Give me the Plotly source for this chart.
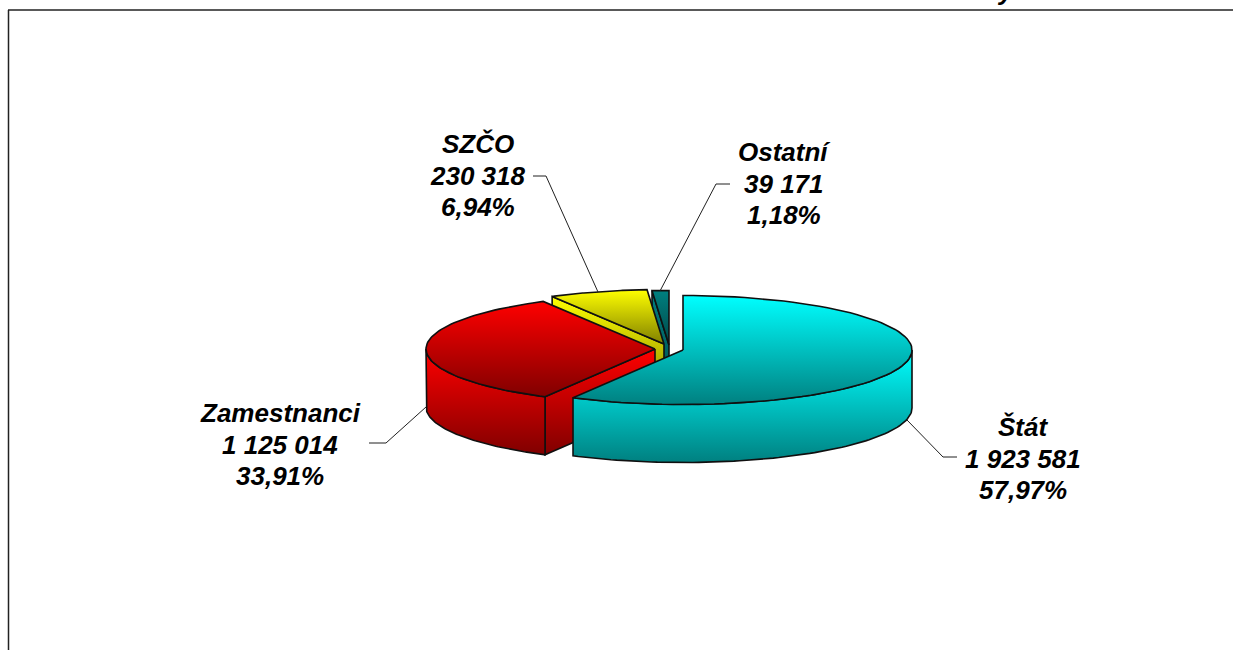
import math
import plotly.graph_objects as go

categories = ["Štát", "Zamestnanci", "SZČO", "Ostatní"]
values = [1923581, 1125014, 230318, 39171]
value_labels = ["1 923 581", "1 125 014", "230 318", "39 171"]
percent_labels = ["57,97%", "33,91%", "6,94%", "1,18%"]
cropped_title_glyph = "y"

W, H = 1233, 650
RX, RY, DEPTH = 229, 54.5, 58
# exploded slice apex positions (pixel axes)
APEX = [(683, 350), (655, 349), (664, 344), (669, 345)]
TOP_GRAD = [("#00FFFF", "#008080"), ("#FF0000", "#800000"), ("#FFFF00", "#808000"), ("#008080", "#004848")]
WALL_GRAD = [("#00FFFF", "#008080"), ("#FF0000", "#800000"), ("#FFFF00", "#808000"), ("#008080", "#004848")]
LABEL_POS = [(1023, 427), (280, 413), (478, 144), (784, 152)]
LINE_STEP = 31.5
LEADERS = [((907, 420), (943, 457), (957, 457)),
           ((426, 407), (386, 443), (369, 443)),
           ((598, 292), (546, 176), (533, 176)),
           ((660, 291), (716, 184), (730, 184))]

total = sum(values)
angles = [0]
for v in values:
    angles.append(angles[-1] + 360 * v / total)


def pt(apex, deg, dy=0):
    a = math.radians(deg)
    return apex[0] + RX * math.sin(a), apex[1] - RY * math.cos(a) + dy


def arc(apex, a0, a1, dy=0, n=80):
    return [pt(apex, a0 + (a1 - a0) * i / n, dy) for i in range(n + 1)]


fig = go.Figure()


def poly(points, grad):
    xs = [p[0] for p in points] + [points[0][0]]
    ys = [p[1] for p in points] + [points[0][1]]
    fig.add_trace(go.Scatter(
        x=xs, y=ys, mode="lines", fill="toself",
        line=dict(color="#101010", width=1.6),
        fillgradient=dict(type="vertical", colorscale=[[0, grad[1]], [1, grad[0]]]),
        hoverinfo="skip", showlegend=False))


def slice_faces(i):
    apex = APEX[i]
    a0, a1 = angles[i], angles[i + 1]
    if i in (1, 2, 3):
        p = pt(apex, a0)
        poly([apex, p, (p[0], p[1] + DEPTH), (apex[0], apex[1] + DEPTH)], WALL_GRAD[i])
    lo, hi = max(a0, 90), min(a1, 270)
    if lo < hi:
        poly(arc(apex, lo, hi) + arc(apex, hi, lo, DEPTH), WALL_GRAD[i])
    poly([apex] + arc(apex, a0, a1), TOP_GRAD[i])


for i in (3, 2, 1, 0):
    slice_faces(i)

for pts in LEADERS:
    fig.add_trace(go.Scatter(x=[p[0] for p in pts], y=[p[1] for p in pts], mode="lines",
                             line=dict(color="#202020", width=1), hoverinfo="skip", showlegend=False))

for i, cat in enumerate(categories):
    for j, line in enumerate((cat, value_labels[i], percent_labels[i])):
        fig.add_annotation(
            x=LABEL_POS[i][0], y=LABEL_POS[i][1] + j * LINE_STEP, xref="x", yref="y",
            xanchor="center", yanchor="middle", showarrow=False, align="center",
            text=f"<b><i>{line}</i></b>",
            font=dict(family="Liberation Sans, Arial, sans-serif", size=26, color="#000000"))

fig.add_annotation(x=1006 / W, y=1.0145, xref="paper", yref="paper", xanchor="center", yanchor="middle",
                   showarrow=False, text=f"<b><i>{cropped_title_glyph}</i></b>",
                   font=dict(family="Liberation Sans, Arial, sans-serif", size=26, color="#000000"))

fig.add_shape(type="line", x0=8.5, x1=8.5, y0=10, y1=H, line=dict(color="#222222", width=1.5))
fig.add_shape(type="line", x0=8, x1=W, y0=10, y1=10, line=dict(color="#222222", width=1.5))

fig.update_layout(
    width=W, height=H, margin=dict(l=0, r=0, t=0, b=0),
    paper_bgcolor="#FFFFFF", plot_bgcolor="#FFFFFF", showlegend=False,
    xaxis=dict(range=[0, W], visible=False, fixedrange=True),
    yaxis=dict(range=[H, 0], visible=False, fixedrange=True),
)
fig.write_html("out.html", config={"displayModeBar": False},
               post_script="document.body.style.margin='0';document.body.style.overflow='hidden';")
